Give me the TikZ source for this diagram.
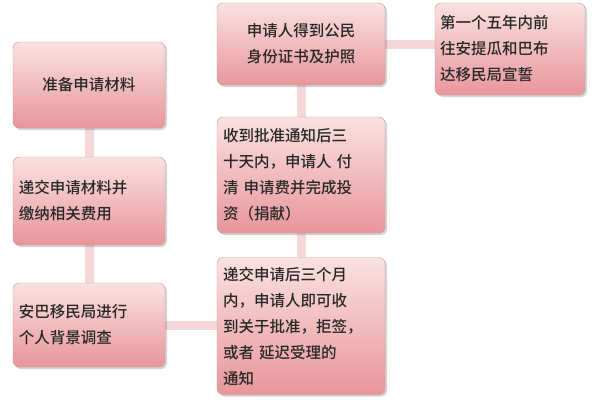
\documentclass[tikz,border=0pt]{standalone}
\usepackage{fontspec}
\newfontfamily\cjk{Noto Sans CJK SC Medium}
\usetikzlibrary{positioning,shadows,backgrounds}
\begin{document}
\begin{tikzpicture}[x=1pt,y=-1pt,
  stepbox/.style = {draw={rgb,255:red,200;green,150;blue,150}, rounded corners=6pt,
    top color={rgb,255:red,250;green,225;blue,225},
    bottom color={rgb,255:red,232;green,150;blue,155},
    drop shadow={opacity=0.35,shadow xshift=2pt,shadow yshift=-2pt},
    minimum width=152pt, align=left, text width=140pt,
    text={rgb,255:red,40;green,40;blue,40},
    font=\cjk\fontsize{15.5}{26}\selectfont, inner sep=5pt},
  link/.style = {line width=9pt, draw={rgb,255:red,245;green,215;blue,218}}]
  \useasboundingbox (0,0) rectangle (600,410);
  \node[stepbox, minimum height=86pt, align=center] (prep) at (89,85) {准备申请材料};
  \node[stepbox, minimum height=88pt] (submit) at (89,201) {递交申请材料并\\缴纳相关费用};
  \node[stepbox, minimum height=84pt] (check) at (89,325) {安巴移民局进行\\个人背景调查};
  \node[stepbox, minimum width=168pt, text width=156pt, minimum height=137pt] (notice) at (301,326) {递交申请后三个月\\内，申请人即可收\\到关于批准，拒签，\\或者 延迟受理的\\通知};
  \node[stepbox, minimum width=168pt, text width=156pt, minimum height=116pt] (pay) at (301,175) {收到批准通知后三\\十天内，申请人 付\\清 申请费并完成投\\资（捐献）};
  \node[stepbox, minimum width=168pt, text width=156pt, minimum height=82pt, align=center] (passport) at (301,44) {申请人得到公民\\身份证书及护照};
  \node[stepbox, minimum width=150pt, text width=140pt, minimum height=92pt] (oath) at (510,49) {第一个五年内前\\往安提瓜和巴布\\达移民局宣誓};
  % connectors under the boxes
  \begin{scope}[on background layer]
    \draw[link] (prep) -- (submit);
    \draw[link] (submit) -- (check);
    \draw[link] (check) -- (check -| notice);
    \draw[link] (notice) -- (pay);
    \draw[link] (pay) -- (passport);
    \draw[link] (passport.east) -- (oath.west |- passport.east);
  \end{scope}
\end{tikzpicture}
\end{document}
